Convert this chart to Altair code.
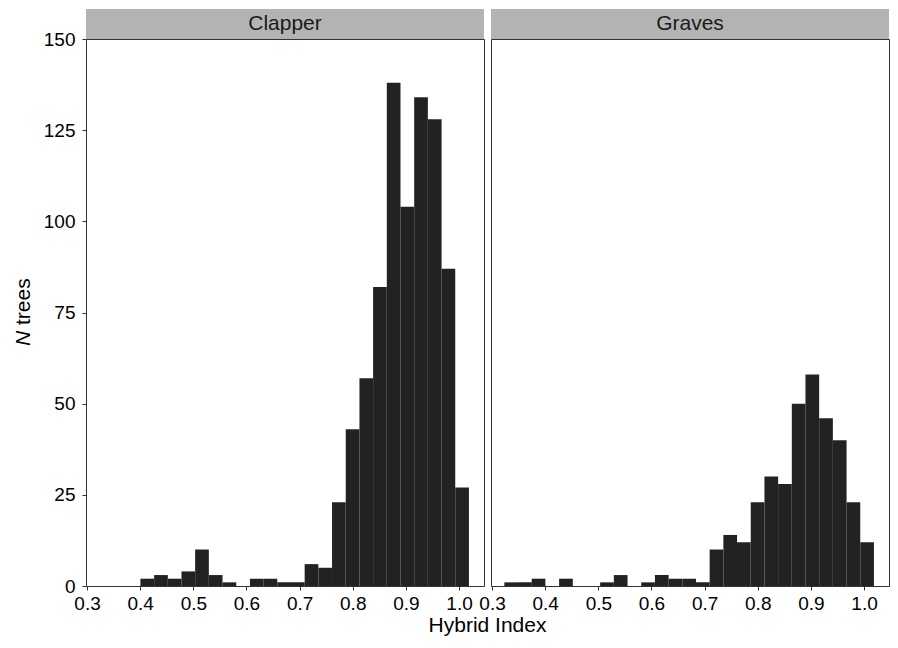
import altair as alt
import pandas as pd

# Histogram bins (lower edges) shared by both panels, and bin width
bin_start = [0.3231, 0.3489, 0.3746, 0.4004, 0.4262, 0.4519, 0.4777, 0.5034, 0.5292,
             0.5550, 0.5807, 0.6065, 0.6322, 0.6580, 0.6838, 0.7095, 0.7353, 0.7610,
             0.7868, 0.8126, 0.8383, 0.8641, 0.8898, 0.9156, 0.9414, 0.9671, 0.9929]
bin_width = 0.02576

clapper_counts = [0, 0, 0, 2, 3, 2, 4, 10, 3, 1, 0, 2, 2, 1, 1, 6, 5, 23, 43, 57,
                  82, 138, 104, 134, 128, 87, 27]
graves_counts = [1, 1, 2, 0, 2, 0, 0, 1, 3, 0, 1, 3, 2, 2, 1, 10, 14, 12, 23, 30,
                 28, 50, 58, 46, 40, 23, 12]

panels = ["Clapper", "Graves"]
x_ticks = [0.3, 0.4, 0.5, 0.6, 0.7, 0.8, 0.9, 1.0]
y_ticks = [0, 25, 50, 75, 100, 125, 150]
x_domain = [0.298, 1.047]
y_domain = [0, 150]

FONT = "Liberation Sans"
W, H = 398, 547
STRIP_H = 30
BAR = "#222222"
STRIP = "#b3b3b3"
INK = "#333333"
LABEL_SIZE = 19
TITLE_SIZE = 21


def panel(name, counts, show_y):
    df = pd.DataFrame({
        "lo": bin_start,
        "hi": [b + bin_width for b in bin_start],
        "n": counts,
    })
    df = df[df["n"] > 0]
    xs = alt.Scale(domain=x_domain, nice=False, zero=False)
    ys = alt.Scale(domain=y_domain, nice=False)
    xaxis = alt.Axis(values=x_ticks, format=".1f", title=None, grid=False, domain=False,
                     tickSize=4, tickColor=INK, labelFontSize=LABEL_SIZE,
                     labelColor="#000000", labelPadding=4, labelFont=FONT)
    if show_y:
        yaxis = alt.Axis(values=y_ticks, title=None, grid=False, domain=False,
                         tickSize=4, tickColor=INK, labelFontSize=LABEL_SIZE,
                         labelColor="#000000", labelPadding=7, labelFont=FONT)
    else:
        yaxis = None
    bars = alt.Chart(df).mark_rect(color=BAR).encode(
        x=alt.X("lo:Q", scale=xs, axis=xaxis),
        x2="hi:Q",
        y=alt.Y("n:Q", scale=ys, axis=yaxis),
        y2=alt.datum(0),
    )
    sdf = pd.DataFrame({"panel": [name]})
    strip = alt.Chart(sdf).mark_rect(color=STRIP).encode(
        x=alt.value(0), x2=alt.value(W), y=alt.value(-STRIP_H), y2=alt.value(0)
    )
    strip_text = alt.Chart(sdf).mark_text(
        font=FONT, fontSize=TITLE_SIZE, color="#1a1a1a", baseline="middle", align="center"
    ).encode(x=alt.value(W / 2), y=alt.value(-STRIP_H / 2), text="panel:N")
    layers = [strip, bars, strip_text]
    if show_y:
        n_txt = alt.Chart(pd.DataFrame({"t": ["N"]})).mark_text(
            font=FONT, fontSize=TITLE_SIZE, fontStyle="italic", angle=270,
            align="left", baseline="middle", color="#000000"
        ).encode(x=alt.value(-62), y=alt.value(307), text="t:N")
        trees_txt = alt.Chart(pd.DataFrame({"t": ["trees"]})).mark_text(
            font=FONT, fontSize=TITLE_SIZE, angle=270,
            align="left", baseline="middle", color="#000000"
        ).encode(x=alt.value(-62), y=alt.value(286), text="t:N")
        xt = alt.Chart(pd.DataFrame({"t": ["Hybrid Index"]})).mark_text(
            font=FONT, fontSize=TITLE_SIZE, align="center", baseline="alphabetic",
            color="#000000"
        ).encode(x=alt.value(W + 3.5), y=alt.value(H + 46), text="t:N")
        layers += [n_txt, trees_txt, xt]
    return alt.layer(*layers).properties(width=W, height=H)


chart = alt.hconcat(
    panel(panels[0], clapper_counts, True),
    panel(panels[1], graves_counts, False),
    spacing=7,
    bounds="flush",
).configure_view(
    stroke=INK, strokeWidth=1
).properties(
    padding={"left": 4, "top": 0, "right": 0, "bottom": 0},
    background="white",
)

chart.save("out.html", embed_options={"renderer": "svg", "actions": False})
